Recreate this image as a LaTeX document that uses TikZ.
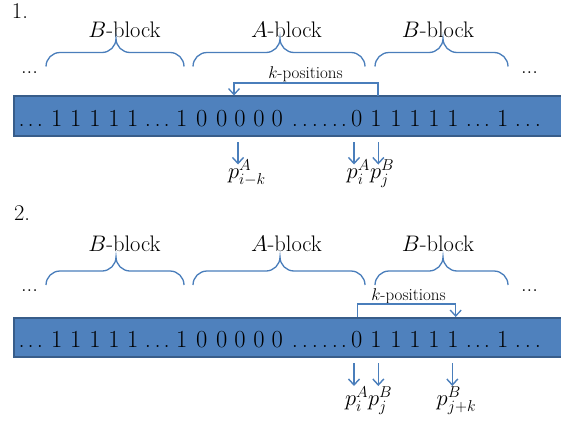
\RequirePackage{fix-cm}
\documentclass[tikz,border=0pt]{standalone}
\usetikzlibrary{arrows.meta}
\definecolor{barfill}{HTML}{4F81BD}
\definecolor{barline}{HTML}{385D8A}
\definecolor{accent}{HTML}{4A7EBB}
\tikzset{
  bigtext/.style={font=\fontsize{22.5}{27}\selectfont, inner sep=0pt, outer sep=0pt},
  glyph/.style={font=\fontsize{24.5}{29}\selectfont, inner sep=0pt, outer sep=0pt, anchor=base},
  smalltext/.style={font=\fontsize{17}{20}\selectfont, inner sep=0pt, outer sep=0pt, anchor=base},
  bracestyle/.style={draw=accent, line width=1.3pt},
  arr/.style={draw=accent, line width=1.4pt, -{Straight Barb[length=6pt,width=11pt]}},
  bracketline/.style={draw=accent, line width=1.3pt},
  barbox/.style={fill=barfill, draw=barline, line width=2pt, inner sep=0pt, outer sep=0pt,
    minimum width=570pt, minimum height=39.5pt, anchor=north west},
}
% brace: left x, right x, tip x, end y
\newcommand\blockbrace[4]{%
  \draw[bracestyle] (#1,#4) .. controls (#1,{#4-7.7}) and ({#1+6.3},{#4-14}) .. ({#1+14},{#4-14})
    -- ({#3-14},{#4-14}) .. controls ({#3-6.3},{#4-14}) and (#3,{#4-20.3}) .. (#3,{#4-28})
    .. controls (#3,{#4-20.3}) and ({#3+6.3},{#4-14}) .. ({#3+14},{#4-14})
    -- ({#2-14},{#4-14}) .. controls ({#2-6.3},{#4-14}) and (#2,{#4-7.7}) .. (#2,#4);}
% bar glyphs: baseline y, name prefix
\newcommand\barglyphs[2]{%
  \foreach \gx/\gc [count=\gn] in {21.7/., 30.7/., 40/., 56.7/1, 75.7/1, 95/1, 114/1, 132.7/1,
    148/., 157.7/., 166.7/., 181.7/1, 201.7/0, 221.7/0, 240/0, 259/0, 277.3/0,
    295/., 305/., 315/., 325/., 335/., 344/., 356.7/0, 376/1, 396/1, 415/1, 434/1, 453/1,
    469/., 478/., 487/., 502.7/1, 518/., 528/., 538/.}
    {\node[glyph] (#2\gn) at (\gx,#1) {\gc};}}
\begin{document}
\begin{tikzpicture}[x=1pt,y=-1pt]
\useasboundingbox (0,0) rectangle (561,423);
\clip (0,0) rectangle (561,423);
% ---------- section 1 ----------
\node[bigtext, anchor=base west] (n1) at (12,18.3) {1.};
\node[bigtext, anchor=base] (lb1) at (124.5,37.3) {$B$-block};
\node[bigtext, anchor=base] (la1) at (286.5,37.3) {$A$-block};
\node[bigtext, anchor=base] (lc1) at (438,37.3) {$B$-block};
\blockbrace{46}{184}{116}{66.5}
\blockbrace{193}{365}{280}{66.5}
\blockbrace{375}{508}{443}{66.5}
\node[bigtext, anchor=base west] (dl1) at (21,73.5) {...};
\node[bigtext, anchor=base west] (dr1) at (521,73.5) {...};
\node[smalltext] (kp1) at (305.5,78) {$k$-positions};
\node[barbox] (bar1) at (14,96) {};
\barglyphs{126}{ga}
\coordinate (k1r) at (378,95.5);
\coordinate (k1l) at (234,95.5);
\draw[bracketline, -{Straight Barb[length=6pt,width=11pt]}] (k1r) -- (378,83) -- (234,83) -- (k1l);
\coordinate (a1s) at (238,142); \coordinate (a1e) at (238,164.5);
\coordinate (b1s) at (354,142); \coordinate (b1e) at (354,164.5);
\coordinate (c1s) at (378.3,142); \coordinate (c1e) at (378.3,164.5);
\draw[arr] (a1s) -- (a1e);
\draw[arr] (b1s) -- (b1e);
\draw[arr] (c1s) -- (c1e);
\node[bigtext, anchor=base west] (pa1) at (228,178.5) {$p^A_{i-k}$};
\node[bigtext, anchor=base west] (pb1) at (346.7,178.5) {$p^A_{i}$};
\node[bigtext, anchor=base west] (pc1) at (370,178.5) {$p^B_{j}$};
% ---------- section 2 ----------
\node[bigtext, anchor=base west] (n2) at (14,220) {2.};
\node[bigtext, anchor=base] (lb2) at (124.5,251.7) {$B$-block};
\node[bigtext, anchor=base] (la2) at (286.5,251.7) {$A$-block};
\node[bigtext, anchor=base] (lc2) at (438,251.7) {$B$-block};
\blockbrace{46}{184}{116}{285}
\blockbrace{193}{365}{280}{285}
\blockbrace{375}{508}{443}{285}
\node[bigtext, anchor=base west] (dl2) at (21,291.5) {...};
\node[bigtext, anchor=base west] (dr2) at (521,291.5) {...};
\node[smalltext] (kp2) at (408.5,300.7) {$k$-positions};
\node[barbox] (bar2) at (14,317.5) {};
\barglyphs{347.5}{gb}
\coordinate (k2l) at (357.7,317);
\coordinate (k2r) at (455.7,317);
\draw[bracketline, -{Straight Barb[length=6pt,width=11pt]}] (k2l) -- (357.7,304) -- (455.7,304) -- (k2r);
\coordinate (a2s) at (354,363); \coordinate (a2e) at (354,386);
\coordinate (b2s) at (378.3,363); \coordinate (b2e) at (378.3,386);
\coordinate (c2s) at (452.3,363); \coordinate (c2e) at (452.3,386);
\draw[arr] (a2s) -- (a2e);
\draw[arr] (b2s) -- (b2e);
\draw[arr] (c2s) -- (c2e);
\node[bigtext, anchor=base west] (pa2) at (345,405.5) {$p^A_{i}$};
\node[bigtext, anchor=base west] (pb2) at (368,405.5) {$p^B_{j}$};
\node[bigtext, anchor=base west] (pc2) at (436.7,405.5) {$p^B_{j+k}$};
\end{tikzpicture}
\end{document}
